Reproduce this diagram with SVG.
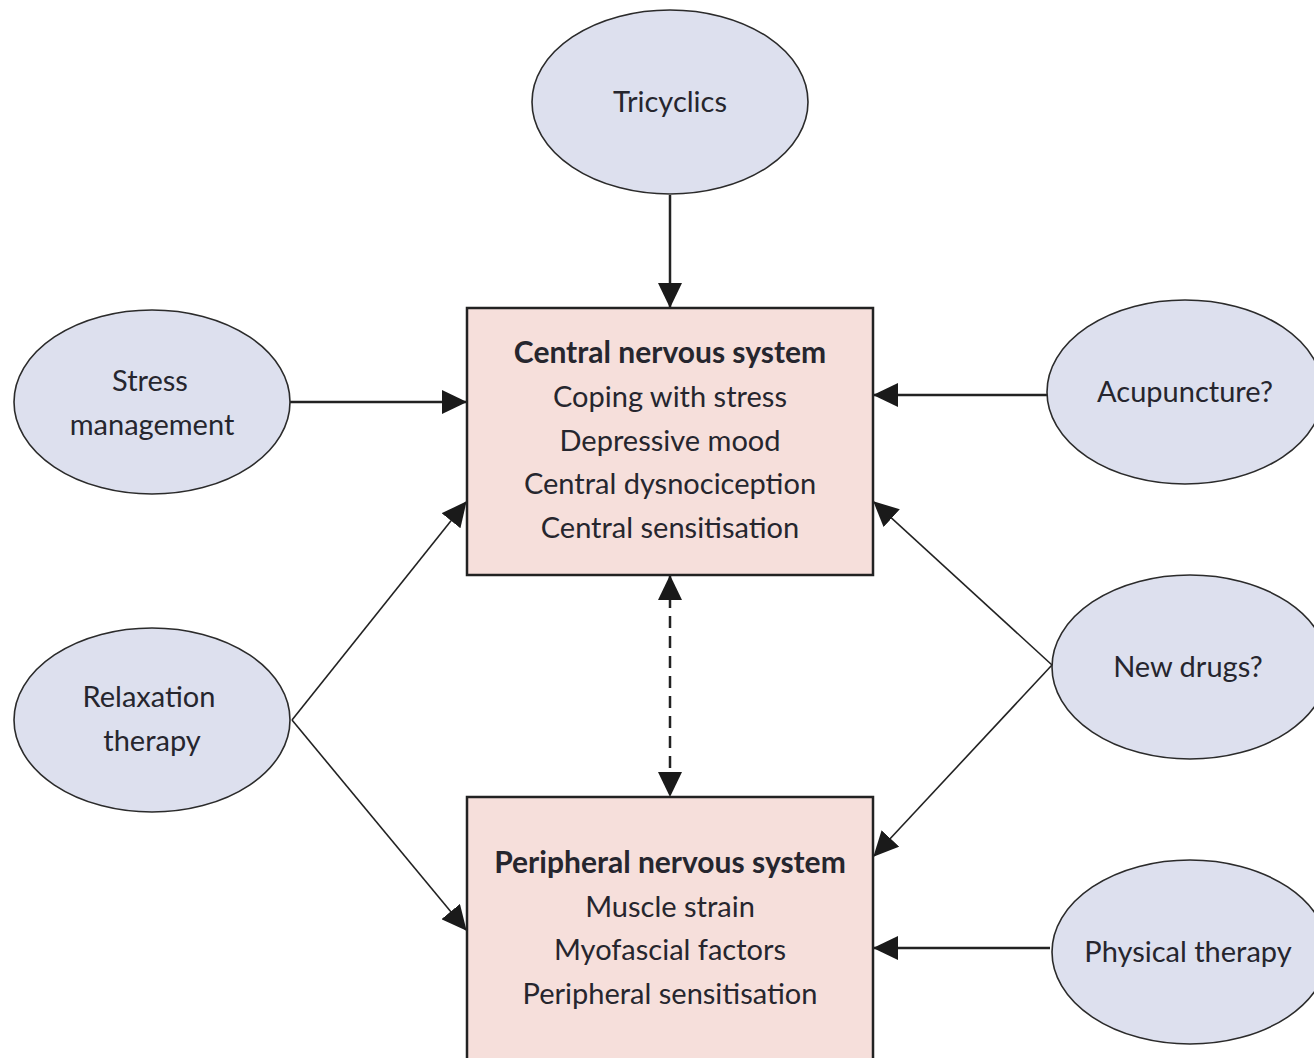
<svg xmlns="http://www.w3.org/2000/svg" width="1314" height="1058" viewBox="0 0 1314 1058">
<style>
.ell{fill:#dde0ee;stroke:#2b2b2b;stroke-width:1.6}
.box{fill:#f6dfdb;stroke:#222;stroke-width:2.5}
text{font-family:Lato,"Open Sans","Liberation Sans",sans-serif;font-size:29px;fill:#26262e;text-anchor:middle}
.b{font-weight:bold;font-size:30px}
.thick{stroke:#222;stroke-width:2.5;fill:none}
.thin{stroke:#222;stroke-width:1.6;fill:none}
.dash{stroke:#222;stroke-width:2.5;fill:none;stroke-dasharray:12 8}
</style>
<defs>
<marker id="ah" markerUnits="userSpaceOnUse" markerWidth="26" markerHeight="24" refX="24" refY="12" orient="auto-start-reverse" viewBox="0 0 26 24">
<path d="M0,0 L25,12 L0,24 z" fill="#1a1a1a"/>
</marker>
</defs>
<rect width="1314" height="1058" fill="#fff"/>
<g id="connectors">
<line class="thick" x1="670" y1="195" x2="670" y2="307" marker-end="url(#ah)"/>
<line class="thick" x1="290" y1="402" x2="466" y2="402" marker-end="url(#ah)"/>
<line class="thick" x1="1047" y1="395" x2="874" y2="395" marker-end="url(#ah)"/>
<line class="thin" x1="292" y1="720" x2="466" y2="502" marker-end="url(#ah)"/>
<line class="thin" x1="292" y1="720" x2="466" y2="930" marker-end="url(#ah)"/>
<line class="thin" x1="1052" y1="665" x2="874" y2="502" marker-end="url(#ah)"/>
<line class="thin" x1="1052" y1="665" x2="874" y2="856" marker-end="url(#ah)"/>
<line class="thick" x1="1050" y1="948" x2="874" y2="948" marker-end="url(#ah)"/>
<line class="dash" x1="670" y1="576" x2="670" y2="796" marker-start="url(#ah)" marker-end="url(#ah)"/>
</g>
<g id="cns">
<rect class="box" x="467" y="308" width="406" height="267"/>
<text class="b" x="670" y="363">Central nervous system</text>
<text x="670" y="407">Coping with stress</text>
<text x="670" y="451">Depressive mood</text>
<text x="670" y="494">Central dysnociception</text>
<text x="670" y="538">Central sensitisation</text>
</g>
<g id="pns">
<rect class="box" x="467" y="797" width="406" height="280"/>
<text class="b" x="670" y="873">Peripheral nervous system</text>
<text x="670" y="917">Muscle strain</text>
<text x="670" y="960">Myofascial factors</text>
<text x="670" y="1004">Peripheral sensitisation</text>
</g>
<g id="tricyclics">
<ellipse class="ell" cx="670" cy="102" rx="138" ry="92"/>
<text x="670" y="112">Tricyclics</text>
</g>
<g id="stress">
<ellipse class="ell" cx="152" cy="402" rx="138" ry="92"/>
<text x="150" y="391">Stress</text>
<text x="152" y="435">management</text>
</g>
<g id="relaxation">
<ellipse class="ell" cx="152" cy="720" rx="138" ry="92"/>
<text x="149" y="707">Relaxation</text>
<text x="152" y="751">therapy</text>
</g>
<g id="acupuncture">
<ellipse class="ell" cx="1185" cy="392" rx="138" ry="92"/>
<text x="1185" y="402">Acupuncture?</text>
</g>
<g id="newdrugs">
<ellipse class="ell" cx="1190" cy="667" rx="138" ry="92"/>
<text x="1188" y="677">New drugs?</text>
</g>
<g id="physical">
<ellipse class="ell" cx="1190" cy="952" rx="138" ry="92"/>
<text x="1188" y="962">Physical therapy</text>
</g>
</svg>
